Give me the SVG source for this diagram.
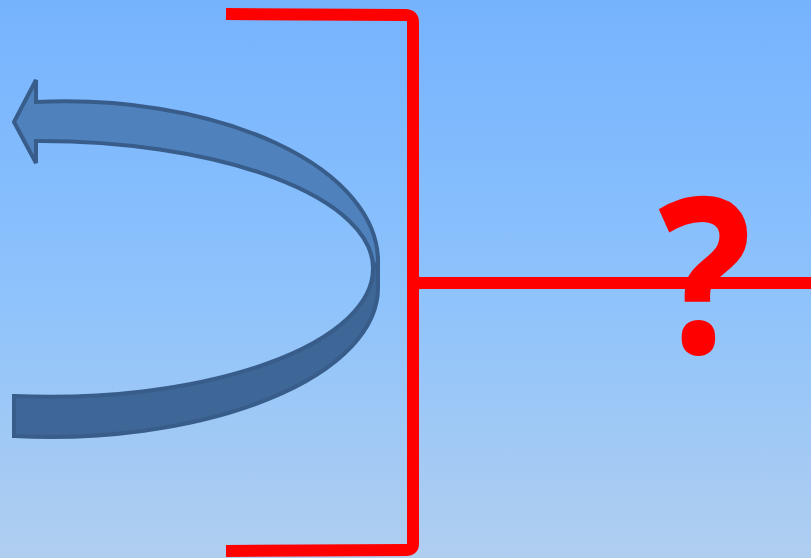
<svg xmlns="http://www.w3.org/2000/svg" width="811" height="558" viewBox="0 0 811 558">
<defs>
<linearGradient id="bg" x1="0" y1="0" x2="0" y2="1">
<stop offset="0" stop-color="#76b3fe"/>
<stop offset="0.5" stop-color="#8cc2fc"/>
<stop offset="1" stop-color="#b0cef0"/>
</linearGradient>
</defs>
<style>
.red{fill:none;stroke:#ff0000;stroke-width:12;stroke-linejoin:round}
.arrow{stroke:#385d8a;stroke-width:4;stroke-linejoin:miter}
.q{font-family:"Open Sans","Noto Sans",sans-serif;font-weight:700;font-size:218px;fill:#ff0000}
</style>
<rect width="811" height="558" fill="url(#bg)"/>
<g id="arrow">
<path class="arrow" fill="#3e6697" d="M378,262 L378,288 A328,149 0 0 1 14,436 L14,396 A323,128 0 0 0 373,268 Z"/>
<path class="arrow" fill="#4f81bd" d="M36,102 A313,160 0 0 1 378,262 L373,268 A333,127 0 0 0 36,141 L36,163 L14,122 L36,80 Z"/>
</g>
<g id="connectors">
<path id="bracket" class="red" d="M226,14 L406,15 Q413,15.5 413,22 L413,544 Q413,550 406,550 L226,551"/>
<path id="line" class="red" stroke-width="11" d="M413,283 L811,283"/>
<path fill="#ff0000" d="M413,274 Q416,277 424,277.5 L424,288.5 Q416,289 413,292 Z"/>
</g>
<g id="question">
<text class="q" transform="translate(705,353) scale(0.9,1)" text-anchor="middle">?</text>
</g>
</svg>
